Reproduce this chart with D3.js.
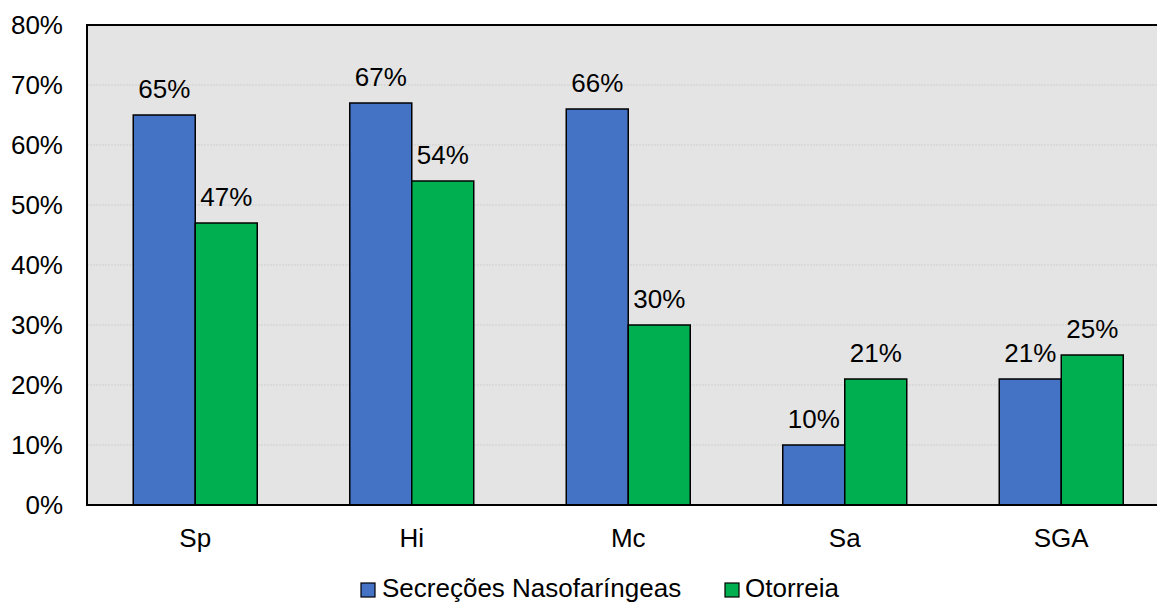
<!DOCTYPE html>
<html><head><meta charset="utf-8">
<script src="https://cdn.jsdelivr.net/npm/d3@7"></script>
<style>body{margin:0;background:#fff;} svg{display:block;font-family:"Liberation Sans",Arial,sans-serif;}</style>
</head><body>
<svg id="c" width="1157" height="604"></svg>
<script>
const categories = ["Sp","Hi","Mc","Sa","SGA"];
const seriesNames = ["Secreções Nasofaríngeas","Otorreia"];
const nasofaringeas = [65,67,66,10,21];
const otorreia = [47,54,30,21,25];
const yTicks = [0,10,20,30,40,50,60,70,80];
const colors = ["#4472C4","#00B050"];

const svg = d3.select("#c");
const L=87, T=25, B=505, R=1169.5;
const FS=26;
const x = d3.scaleBand().domain(categories).range([L,R]).paddingInner(0).paddingOuter(0);
const y = d3.scaleLinear().domain([0,80]).range([B,T]);
const barW = 62;

svg.append("rect").attr("x",L).attr("y",T).attr("width",R-L).attr("height",B-T).attr("fill","#e4e4e4");
svg.append("g").selectAll("line").data(yTicks.filter(d=>d>0&&d<80)).join("line")
  .attr("x1",L).attr("x2",R).attr("y1",d=>y(d)).attr("y2",d=>y(d))
  .attr("stroke","#cfcfcf").attr("stroke-width",1).attr("stroke-dasharray","2,1");

const series=[nasofaringeas,otorreia];
series.forEach((vals,si)=>{
  const g=svg.append("g");
  g.selectAll("rect").data(vals).join("rect")
    .attr("x",(d,i)=>x(categories[i])+x.bandwidth()/2-barW+si*barW)
    .attr("y",d=>y(d)).attr("width",barW).attr("height",d=>B-y(d))
    .attr("fill",colors[si]).attr("stroke","#000").attr("stroke-width",1.5);
  g.selectAll("text").data(vals).join("text")
    .attr("x",(d,i)=>x(categories[i])+x.bandwidth()/2-barW/2+si*barW)
    .attr("y",d=>y(d)-17).attr("text-anchor","middle")
    .attr("font-size",FS).attr("fill","#000").text(d=>d+"%");
});

// border
svg.append("path").attr("d",`M${R+5},${T}H${L}V${B}H${R+5}`).attr("fill","none").attr("stroke","#000").attr("stroke-width",2);

// y ticks
svg.append("g").selectAll("text").data(yTicks).join("text")
  .attr("x",63).attr("y",d=>y(d)+8.5).attr("text-anchor","end").attr("font-size",FS).text(d=>d+"%");
// x labels
svg.append("g").selectAll("text").data(categories).join("text")
  .attr("x",d=>x(d)+x.bandwidth()/2).attr("y",547).attr("text-anchor","middle").attr("font-size",FS).text(d=>d);

// legend
const leg=[{x:361,tx:382},{x:725,tx:745}];
seriesNames.forEach((n,i)=>{
  svg.append("rect").attr("x",leg[i].x).attr("y",583).attr("width",14).attr("height",14)
    .attr("fill",colors[i]).attr("stroke","#000").attr("stroke-width",1.2);
  svg.append("text").attr("x",leg[i].tx).attr("y",597).attr("font-size",FS).text(n);
});
</script>
</body></html>
